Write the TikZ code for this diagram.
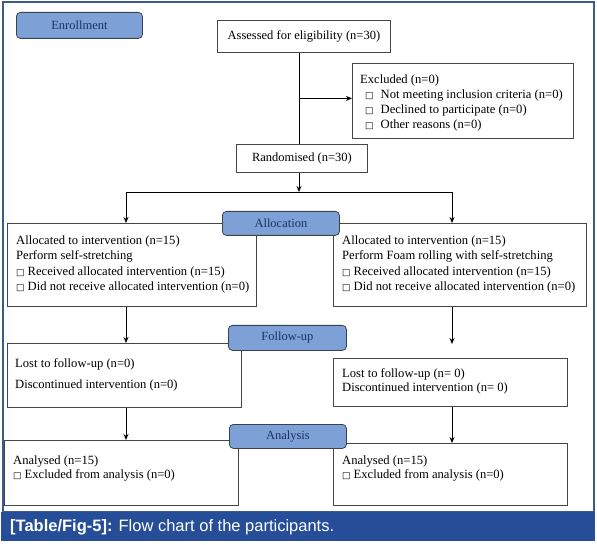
\documentclass[tikz,border=0pt]{standalone}
\usepackage{fontspec}
\setmainfont{Liberation Serif}
\newfontfamily\capfont{Liberation Sans}
\newfontfamily\symfont{DejaVu Sans}
\usetikzlibrary{arrows.meta}
\definecolor{lblfill}{RGB}{125,161,214}
\definecolor{lbltext}{RGB}{28,50,100}
\definecolor{lblline}{RGB}{58,66,80}
\definecolor{framecol}{RGB}{60,90,140}
\definecolor{capband}{RGB}{38,78,152}
\definecolor{boxline}{RGB}{70,70,70}
\newcommand\sq{{\symfont\fontsize{9}{9}\selectfont □}}
\begin{document}
\begin{tikzpicture}[x=1pt,y=-1pt,
  box/.style={draw=boxline, line width=0.8pt, fill=white, rectangle, inner sep=0pt, anchor=north west, font=\fontsize{12.5}{14}\selectfont},
  lbl/.style={draw=lblline, line width=0.8pt, fill=lblfill, rounded corners=4pt, text=lbltext, font=\fontsize{12.5}{14}\selectfont, inner sep=0pt, anchor=north west},
  txt/.style={inner sep=0pt, anchor=north west, align=left, font=\fontsize{12.6}{15.6}\selectfont},
  conn/.style={line width=0.9pt, black},
  arr/.style={conn, -{Stealth[length=6pt,width=5pt]}}]
\useasboundingbox (0,0) rectangle (597,545);
% frame and caption
\draw[framecol, line width=1.2pt] (3,2) rectangle (594,512);
\node[fill=capband, minimum width=594pt, minimum height=29pt, inner sep=0pt, anchor=north west] (capband) at (1,512) {};
\node[anchor=west, inner sep=0pt, text=white, font=\capfont\fontsize{16.5}{18}\selectfont] (captxt) at (10,527) {\textbf{[Table/Fig-5]:} Flow chart of the participants.};
% boxes
\node[box, minimum width=173pt, minimum height=32pt] (assess) at (217,20) {Assessed for eligibility (n=30)};
\node[box, minimum width=221pt, minimum height=75pt] (excl) at (352,63) {};
\node[box, minimum width=131pt, minimum height=28pt] (rand) at (236,144) {Randomised (n=30)};
\node[box, minimum width=249pt, minimum height=83pt] (allocL) at (7,223) {};
\node[box, minimum width=253pt, minimum height=83pt] (allocR) at (333,223) {};
\node[box, minimum width=234pt, minimum height=64pt] (fuL) at (7,343) {};
\node[box, minimum width=234pt, minimum height=48pt] (fuR) at (333,358) {};
\node[box, minimum width=234pt, minimum height=65pt] (anL) at (4,440) {};
\node[box, minimum width=234pt, minimum height=62pt] (anR) at (333,443) {};
% texts
\node[txt, font=\fontsize{12.6}{15}\selectfont] (exclt) at (360,72.5) {\strut Excluded (n=0)\\
\hspace*{5pt}\sq\hspace{7pt}Not meeting inclusion criteria (n=0)\\
\hspace*{5pt}\sq\hspace{7pt}Declined to participate (n=0)\\
\hspace*{5pt}\sq\hspace{7pt}Other reasons (n=0)};
\node[txt] (allocLt) at (16,233) {\strut Allocated to intervention (n=15)\\
Perform self-stretching\\
\sq\hspace{3pt}Received allocated intervention (n=15)\\
\sq\hspace{3pt}Did not receive allocated intervention (n=0)};
\node[txt] (allocRt) at (342,233) {\strut Allocated to intervention (n=15)\\
Perform Foam rolling with self-stretching\\
\sq\hspace{3pt}Received allocated intervention (n=15)\\
\sq\hspace{3pt}Did not receive allocated intervention (n=0)};
\node[txt, font=\fontsize{12.6}{21}\selectfont] (fuLt) at (15,352.3) {\strut Lost to follow-up (n=0)\\
Discontinued intervention (n=0)};
\node[txt, font=\fontsize{12.6}{14}\selectfont] (fuRt) at (342,367.2) {\strut Lost to follow-up (n= 0)\\
Discontinued intervention (n= 0)};
\node[txt, font=\fontsize{12.6}{14}\selectfont] (anLt) at (13,454.2) {\strut Analysed (n=15)\\
\sq\hspace{3pt}Excluded from analysis (n=0)};
\node[txt, font=\fontsize{12.6}{14}\selectfont] (anRt) at (342,454.2) {\strut Analysed (n=15)\\
\sq\hspace{3pt}Excluded from analysis (n=0)};
% connectors
\coordinate (colL) at (126,0);
\coordinate (colM) at (299,0);
\coordinate (colR) at (452,0);
\coordinate (split) at (299,192);
\coordinate (fuRin) at (452,344);
\draw[conn] (assess.south -| colM) -- (rand.north -| colM);
\draw[arr] ([yshift=2.5pt]excl.west -| colM) -- ([yshift=2.5pt]excl.west);
\draw[arr] (rand.south -| colM) -- (split);
\draw[conn] (split -| colL) -- (split -| colR);
\draw[arr] (split -| colL) -- (allocL.north -| colL);
\draw[arr] (split -| colR) -- (allocR.north -| colR);
\draw[arr] (allocL.south -| colL) -- (fuL.north -| colL);
\draw[arr] (allocR.south -| colR) -- (fuRin);
\draw[arr] (fuL.south -| colL) -- (anL.north -| colL);
\draw[arr] (fuR.south -| colR) -- (anR.north -| colR);
% stage labels
\node[lbl, minimum width=126pt, minimum height=26pt] (enr) at (16,12) {Enrollment};
\node[lbl, minimum width=117pt, minimum height=24pt] (allo) at (222,211) {Allocation};
\node[lbl, minimum width=118pt, minimum height=25pt] (fol) at (228,325) {Follow-up};
\node[lbl, minimum width=117pt, minimum height=24pt] (ana) at (229,424) {Analysis};
\end{tikzpicture}
\end{document}
